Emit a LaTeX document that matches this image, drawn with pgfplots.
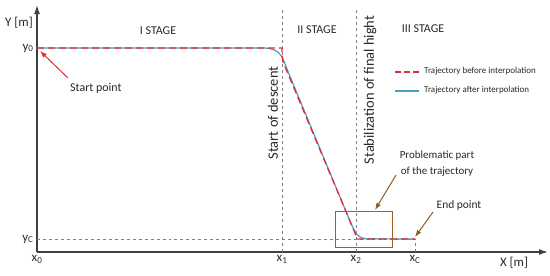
\documentclass[border=0pt]{standalone}
\usepackage{fontspec}
\setmainfont{Carlito}
\usepackage{pgfplots}
\pgfplotsset{compat=1.18}
\usetikzlibrary{arrows.meta}
\definecolor{trred}{RGB}{232,40,50}
\definecolor{trblue}{RGB}{70,160,195}
\definecolor{boxbrown}{RGB}{165,95,40}
\definecolor{arrbrown}{RGB}{140,95,25}
\definecolor{axgray}{RGB}{64,64,64}
\definecolor{txt}{RGB}{40,40,40}
\begin{document}
\begin{tikzpicture}
\begin{axis}[
  x=1bp, y=1bp,
  xmin=0, xmax=511, ymin=0, ymax=247,
  axis lines=left,
  axis line style={axgray, line width=1.3bp},
  x axis line style={-{Latex[length=9bp,width=6bp]}},
  y axis line style={-{Latex[length=9bp,width=6bp]}},
  clip=false,
  xtick={0,245,319,378},
  xticklabels={x\textsubscript{0},x\textsubscript{1},x\textsubscript{2},x\textsubscript{C}},
  ytick={13,204},
  yticklabels={y\textsubscript{C},y\textsubscript{0}},
  major tick length=0pt,
  tick label style={font=\fontsize{13}{13}\selectfont, text=txt},
]
% guide lines
\addplot[gray, dashed, line width=0.6bp] coordinates {(245,0) (245,244)};
\addplot[gray, dashed, line width=0.6bp] coordinates {(319,0) (319,244)};
\addplot[gray, dashed, line width=0.6bp] coordinates {(378,0) (378,13)};
\addplot[gray, dashed, line width=0.6bp] coordinates {(0,13) (378,13)};
% trajectory after interpolation
\addplot[trblue, line width=1.2bp] coordinates {
 (0,204) (228,204) (233,203.4) (237,202.2) (241,199.8) (244,196.5) (246,193) (248,188) (251,180.5)
 (312,33.3) (314,28.5) (316,24.2) (318,20.5) (320,17.6) (322,15.7) (325,14.1) (330,13.2) (378,13)};
% trajectory before interpolation
\addplot[trred, line width=1.3bp, dash pattern=on 7bp off 4bp] coordinates {
 (0,204) (245,204) (245,197) (246,190) (318,19) (320,13) (378,13)};
% legend
\draw[trred, line width=1.3bp, dash pattern=on 6bp off 3bp] (axis cs:358,180) -- (axis cs:382,180);
\draw[trblue, line width=1.2bp] (axis cs:358,161) -- (axis cs:382,161);
\node[font=\fontsize{9}{9}\selectfont, text=txt, anchor=west, inner sep=0pt] at (axis cs:387,180.5) {Trajectory before interpolation};
\node[font=\fontsize{9}{9}\selectfont, text=txt, anchor=west, inner sep=0pt] at (axis cs:387,161.5) {Trajectory after interpolation};
% problematic box
\draw[boxbrown, line width=1bp] (axis cs:298,5) rectangle (axis cs:355,41);
% arrows
\draw[trred, line width=1bp, -{Latex[length=7bp,width=5bp]}] (axis cs:31,174) -- (axis cs:3,201);
\draw[arrbrown, line width=1bp, -{Latex[length=7bp,width=5bp]}] (axis cs:359,77) -- (axis cs:338,42);
\draw[arrbrown, line width=1bp, -{Latex[length=7bp,width=5bp]}] (axis cs:396,40) -- (axis cs:378,15);
% texts
\node[font=\fontsize{12}{12}\selectfont, text=txt] at (axis cs:121,221) {I STAGE};
\node[font=\fontsize{12}{12}\selectfont, text=txt] at (axis cs:280,222) {II STAGE};
\node[font=\fontsize{12}{12}\selectfont, text=txt] at (axis cs:386,223) {III STAGE};
\node[font=\fontsize{14.5}{14.5}\selectfont, text=txt, rotate=90] at (axis cs:236,139) {Start of descent};
\node[font=\fontsize{14.5}{14.5}\selectfont, text=txt, rotate=90] at (axis cs:333,162) {Stabilization of final hight};
\node[font=\fontsize{12}{12}\selectfont, text=txt, anchor=west, inner sep=0pt] at (axis cs:33,164) {Start point};
\node[font=\fontsize{11}{16}\selectfont, text=txt, align=center] at (axis cs:400,88) {Problematic part\\of the trajectory};
\node[font=\fontsize{11.5}{12}\selectfont, text=txt] at (axis cs:422,47) {End point};
\node[font=\fontsize{13}{13}\selectfont, text=txt] at (axis cs:-18,229) {Y [m]};
\node[font=\fontsize{13}{13}\selectfont, text=txt] at (axis cs:477,-11) {X [m]};
\path (axis cs:-37,-23) rectangle (axis cs:513,252);
\end{axis}
\end{tikzpicture}
\end{document}
